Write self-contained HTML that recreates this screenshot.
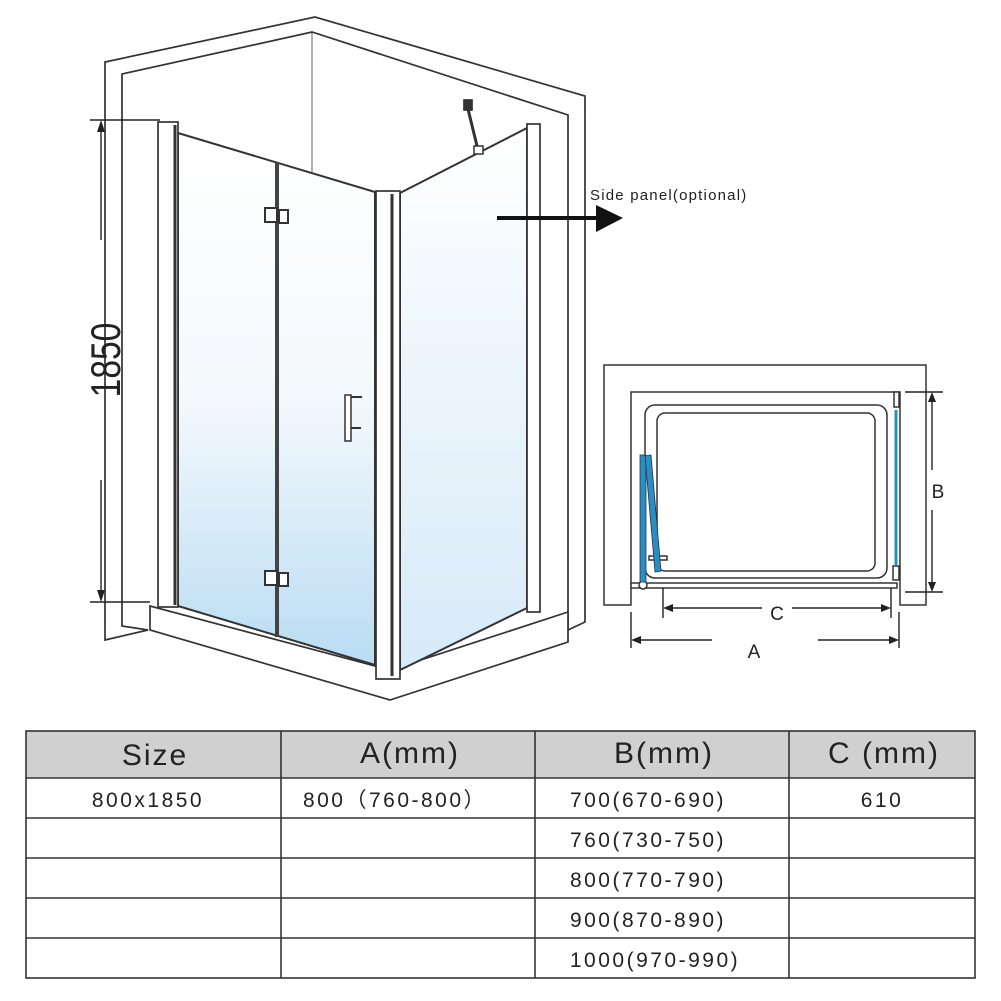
<!DOCTYPE html>
<html><head><meta charset="utf-8"><style>
html,body{margin:0;padding:0;background:#fff;}
svg{display:block;}
text{font-family:"Liberation Sans",sans-serif;fill:#222;}
</style></head><body>
<svg width="1001" height="1001" viewBox="0 0 1001 1001" xmlns="http://www.w3.org/2000/svg">
<defs>
<linearGradient id="g" x1="0" y1="0" x2="0" y2="1">
<stop offset="0" stop-color="#ffffff"/><stop offset="0.5" stop-color="#f4f9fd"/><stop offset="1" stop-color="#b9dcf3"/>
</linearGradient>
<linearGradient id="g2" x1="0" y1="0" x2="0" y2="1">
<stop offset="0" stop-color="#ffffff"/><stop offset="1" stop-color="#d6eaf8"/>
</linearGradient>
</defs>
<g fill="none" stroke="#333" stroke-width="1.7">
<polygon points="105,62 315,17 585,96 585,622 568,630 568,115 312,32 122,74 122,626 148,630 105,640" fill="#fff"/>
<line x1="312" y1="32" x2="312" y2="175" stroke-width="0.8"/>
<polygon points="150,606 150,630 390,700 568,642 568,612 390,670" fill="#fff"/>
<polygon points="178,133 375,192 375,665 178,606" fill="url(#g)" stroke-width="2"/>
<line x1="277" y1="163" x2="277" y2="637" stroke-width="4" stroke="#444"/>
<polygon points="400,193 527,128 527,608 400,670" fill="url(#g2)" stroke-width="2"/>
<rect x="158" y="122" width="20" height="485" fill="#fff"/>
<line x1="175" y1="125" x2="175" y2="605" stroke-width="3"/>
<rect x="376" y="191" width="24" height="488" fill="#fff"/>
<line x1="392" y1="194" x2="392" y2="676" stroke-width="3"/>
<rect x="527" y="124" width="13" height="488" fill="#fff"/>
<rect x="265" y="208" width="12" height="14" fill="#fff" stroke-width="2"/>
<rect x="279" y="210" width="9" height="13" fill="#fff" stroke-width="2"/>
<rect x="265" y="571" width="12" height="14" fill="#fff" stroke-width="2"/>
<rect x="279" y="573" width="9" height="13" fill="#fff" stroke-width="2"/>
<rect x="345" y="395" width="6" height="46" fill="#fff" stroke-width="1.5"/>
<line x1="351" y1="397" x2="362" y2="397" stroke-width="2"/>
<line x1="351" y1="428" x2="361" y2="428" stroke-width="2"/>
<line x1="467" y1="105" x2="478" y2="150" stroke-width="3"/>
<rect x="464" y="100" width="8" height="10" fill="#333"/>
<rect x="474" y="146" width="9" height="8" fill="#fff" stroke-width="1.5"/>
</g>
<g stroke="#222" stroke-width="1.4">
<line x1="90" y1="120" x2="160" y2="120"/>
<line x1="90" y1="602" x2="150" y2="602"/>
<line x1="101" y1="130" x2="101" y2="240"/>
<line x1="101" y1="480" x2="101" y2="592"/>
</g>
<polygon points="101,120 97,132 105,132" fill="#222"/>
<polygon points="101,602 97,590 105,590" fill="#222"/>
<text x="0" y="0" transform="translate(120,360) rotate(-90) scale(0.8,1)" font-size="42" text-anchor="middle">1850</text>
<line x1="497" y1="218" x2="598" y2="218" stroke="#111" stroke-width="4"/>
<polygon points="596,205 623,218 596,232" fill="#111"/>
<text x="590" y="200" font-size="15" letter-spacing="1.2">Side panel(optional)</text>
<g fill="none" stroke="#333" stroke-width="1.5">
<polygon points="604,365 926,365 926,605 900,605 900,392 631,392 631,605 604,605" fill="#fff"/>
<rect x="645" y="405" width="242" height="173" rx="10"/>
<rect x="657" y="413" width="218" height="158" rx="8"/>
<rect x="631" y="583" width="266" height="5" fill="#fff"/>
<rect x="894" y="392" width="5" height="15" fill="#fff"/>
<rect x="893" y="566" width="6" height="14" fill="#fff"/>
<circle cx="643" cy="585" r="4" fill="#fff"/>
<rect x="649" y="556" width="18" height="4" fill="#fff"/>
</g>
<line x1="896" y1="410" x2="896" y2="565" stroke="#2a8fc0" stroke-width="3"/>
<rect x="640" y="455" width="6" height="127" fill="#2a8fc0" stroke="#235" stroke-width="0.8"/>
<polygon points="645,456 651,455 661,571 655,572" fill="#2a8fc0" stroke="#235" stroke-width="0.8"/>
<g stroke="#222" stroke-width="1.4">
<line x1="905" y1="392" x2="943" y2="392"/>
<line x1="905" y1="592" x2="943" y2="592"/>
<line x1="932" y1="398" x2="932" y2="470"/>
<line x1="932" y1="510" x2="932" y2="586"/>
<line x1="663" y1="588" x2="663" y2="618"/>
<line x1="891" y1="588" x2="891" y2="618"/>
<line x1="669" y1="608" x2="762" y2="608"/>
<line x1="792" y1="608" x2="885" y2="608"/>
<line x1="631" y1="612" x2="631" y2="648"/>
<line x1="899" y1="612" x2="899" y2="648"/>
<line x1="637" y1="640" x2="712" y2="640"/>
<line x1="818" y1="640" x2="893" y2="640"/>
</g>
<g fill="#222">
<polygon points="932,392 928,402 936,402"/><polygon points="932,592 928,582 936,582"/>
<polygon points="663,608 673,604 673,612"/><polygon points="891,608 881,604 881,612"/>
<polygon points="631,640 641,636 641,644"/><polygon points="899,640 889,636 889,644"/>
</g>
<text x="938" y="498" font-size="19" text-anchor="middle">B</text>
<text x="777" y="620" font-size="19" text-anchor="middle">C</text>
<text x="754" y="658" font-size="19" text-anchor="middle">A</text>
<rect x="26" y="731" width="949" height="47" fill="#d0d0d0"/>
<g stroke="#333" stroke-width="1.6" fill="none">
<rect x="26" y="731" width="949" height="247"/>
<line x1="26" y1="778" x2="975" y2="778"/>
<line x1="26" y1="818" x2="975" y2="818"/>
<line x1="26" y1="858" x2="975" y2="858"/>
<line x1="26" y1="898" x2="975" y2="898"/>
<line x1="26" y1="938" x2="975" y2="938"/>
<line x1="281" y1="731" x2="281" y2="978"/>
<line x1="535" y1="731" x2="535" y2="978"/>
<line x1="789" y1="731" x2="789" y2="978"/>
</g>
<g font-size="30" text-anchor="middle" letter-spacing="2">
<text x="155" y="765">Size</text>
<text x="410" y="763">A(mm)</text>
<text x="664" y="763">B(mm)</text>
<text x="884" y="763">C (mm)</text>
</g>
<g font-size="21" text-anchor="middle" letter-spacing="2.5">
<text x="148" y="807">800x1850</text>
<text x="395" y="807">800（760-800）</text>
<text x="648" y="807">700(670-690)</text>
<text x="882" y="807">610</text>
<text x="648" y="847">760(730-750)</text>
<text x="648" y="887">800(770-790)</text>
<text x="648" y="927">900(870-890)</text>
<text x="655" y="967">1000(970-990)</text>
</g>
</svg>
</body></html>
